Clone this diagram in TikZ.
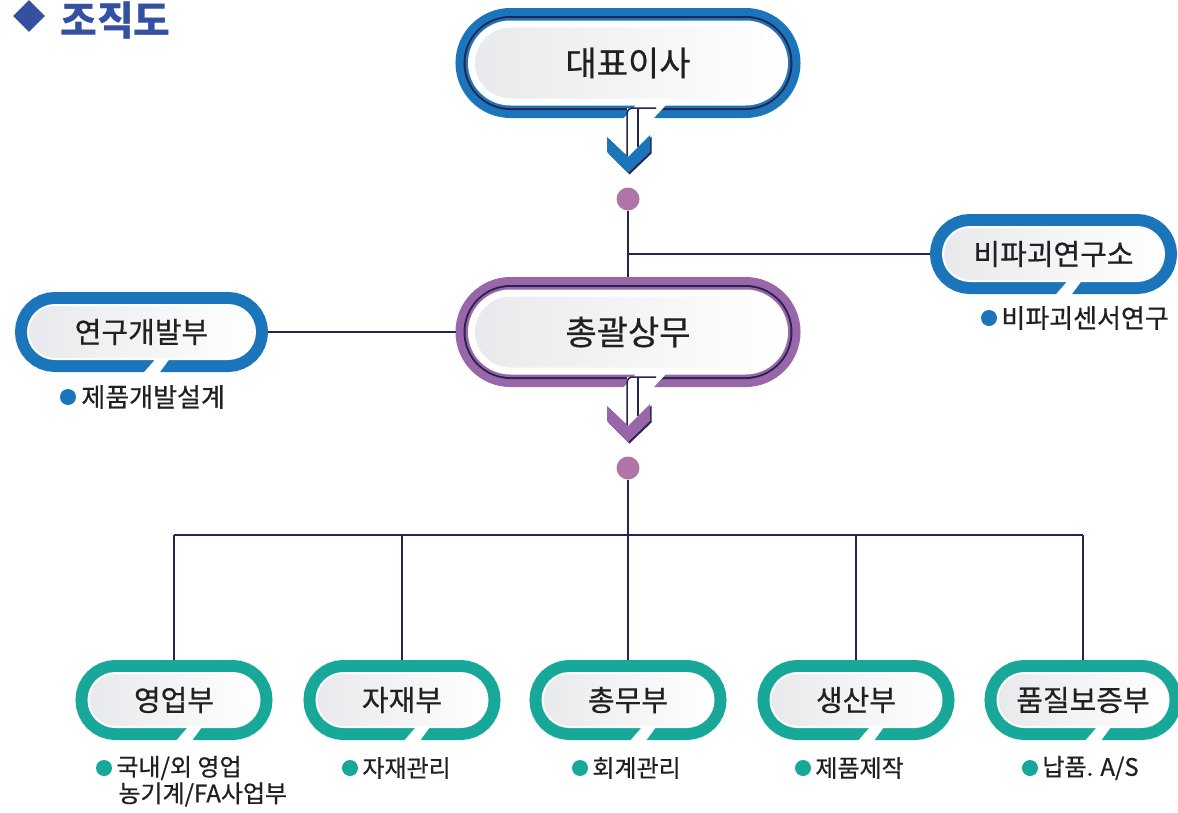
\documentclass[tikz,border=0pt]{standalone}
\usepackage{fontspec}
\usepackage{tikz}
\usetikzlibrary{shapes.misc,shapes.geometric,positioning}
\newfontfamily\kr{Noto Sans CJK KR}
\newfontfamily\krm[FakeBold=0.6]{Noto Sans CJK KR}
\definecolor{bandblue}{HTML}{1B75BB}
\definecolor{bandpurple}{HTML}{9967A9}
\definecolor{bandteal}{HTML}{17A89A}
\definecolor{linenavy}{HTML}{29244F}
\definecolor{dotpurple}{HTML}{B074A7}
\definecolor{titleblue}{HTML}{3550A0}
\definecolor{textdark}{HTML}{231F20}
\definecolor{boxgray}{HTML}{E8E9EC}

\begin{document}
\begin{tikzpicture}[x=1pt,y=-1pt,
    bigbox/.style={rounded rectangle, minimum width=313pt, minimum height=78pt,
      inner sep=0pt, outer sep=16pt, left color=boxgray, right color=white,
      draw=white, line width=7pt,
      preaction={draw=#1, line width=32pt},
      preaction={draw=linenavy, line width=16pt},
      preaction={draw=#1, line width=12pt},
      text=textdark, font=\krm\fontsize{34}{38}\selectfont},
    smallbox/.style={rounded rectangle, minimum height=54pt,
      inner sep=0pt, outer sep=13pt, left color=boxgray, right color=white,
      draw=white, line width=2pt,
      preaction={draw=#1, line width=26pt},
      text=textdark, font=\krm\fontsize{29}{32}\selectfont},
    deptbox/.style={smallbox=bandteal, minimum width=171pt},
    joint/.style={circle, fill=dotpurple, minimum size=23pt, inner sep=0pt},
    bullet/.style={circle, fill=#1, minimum size=16pt, inner sep=0pt},
    note/.style={inner sep=0pt, text=textdark, font=\krm\fontsize{24}{28}\selectfont},
    conn/.style={draw=linenavy, line width=2pt}]
  \useasboundingbox (0,0) rectangle (1178,812);

  % title
  \node[diamond, fill=titleblue, minimum size=32pt, inner sep=0pt] (mark) at (29,16) {};
  \node[anchor=west, inner sep=0pt, text=titleblue, font=\kr\bfseries\fontsize{40}{40}\selectfont] (title) at (60,21) {조직도};

  % boxes
  \node[bigbox=bandblue] (ceo) at (628,63) {대표이사};
  \node[bigbox=bandpurple] (head) at (628,332) {총괄상무};
  \node[smallbox=bandblue, minimum width=221pt] (lab) at (1053.5,254) {비파괴연구소};
  \node[smallbox=bandblue, minimum width=227pt] (rnd) at (141.5,332) {연구개발부};
  \node[deptbox] (sales) at (174,700) {영업부};
  \node[deptbox] (material) at (402,700) {자재부};
  \node[deptbox] (general) at (628,700) {총무부};
  \node[deptbox] (production) at (856,700) {생산부};
  \node[deptbox] (quality) at (1083,700) {품질보증부};

  % slits in the bands
  \foreach \n in {lab,rnd,sales,material,general,production,quality}
    \fill[white, shift={(\n.center)}] (1,42) -- (14,27) -- (28,27) -- (17,42) -- cycle;

  % arrows out of the two big boxes
  \foreach \n/\c in {ceo/bandblue,head/bandpurple}{
    \begin{scope}[shift={(\n.center)}]
      \fill[white] (-6,57) -- (9,41) -- (39,41) -- (24,57) -- cycle;
      \fill[white] (-1,93) -- (-1,45) -- (10,45) -- (10,84) -- cycle;
      \draw[linenavy, line width=1.5pt, rounded corners=5pt] (-1,93) -- (-1,45) -- (28,45);
      \draw[linenavy, line width=1.5pt] (10,46) -- (10,84);
      \fill[linenavy, shift={(1.5,1.5)}] (-21,74) -- (0,94) -- (22,72) -- (22,89) -- (0,110) -- (-21,89) -- cycle;
      \fill[\c] (-21,74) -- (0,94) -- (22,72) -- (22,89) -- (0,110) -- (-21,89) -- cycle;
    \end{scope}
  }

  % connectors
  \node[joint] (j1) at (628,199) {};
  \node[joint] (j2) at (628,468) {};
  \coordinate (bar) at (628,535);
  \draw[conn] (j1) -- (head.north);
  \draw[conn] (j1 |- lab.west) -- (lab.west);
  \draw[conn] (rnd.east) -- (head.west);
  \draw[conn] (j2) -- (bar);
  \draw[conn] (sales.north |- bar) -- (quality.north |- bar);
  \foreach \n in {sales,material,general,production,quality}
    \draw[conn] (\n.north |- bar) -- (\n.north);

  % duties
  \node[bullet=bandblue] (d0) at (68,397) {};
  \node[note, font=\krm\fontsize{26}{30}\selectfont, right=5pt of d0] (t0) {제품개발설계};
  \node[bullet=bandblue] (d1) at (989,318) {};
  \node[note, font=\krm\fontsize{26}{30}\selectfont, right=4pt of d1] (t1) {비파괴센서연구};
  \node[bullet=bandteal] (d2) at (104,768) {};
  \node[note, right=4pt of d2] (t2) {국내/외 영업};
  \node[note, below=2pt of t2.south west, anchor=north west, xshift=2pt] (t2b) {농기계/FA사업부};
  \node[bullet=bandteal] (d3) at (350,768) {};
  \node[note, right=4pt of d3] (t3) {자재관리};
  \node[bullet=bandteal] (d4) at (580,768) {};
  \node[note, right=4pt of d4] (t4) {회계관리};
  \node[bullet=bandteal] (d5) at (803,768) {};
  \node[note, right=4pt of d5] (t5) {제품제작};
  \node[bullet=bandteal] (d6) at (1030,768) {};
  \node[note, right=4pt of d6] (t6) {납품. A/S};
\end{tikzpicture}
\end{document}
